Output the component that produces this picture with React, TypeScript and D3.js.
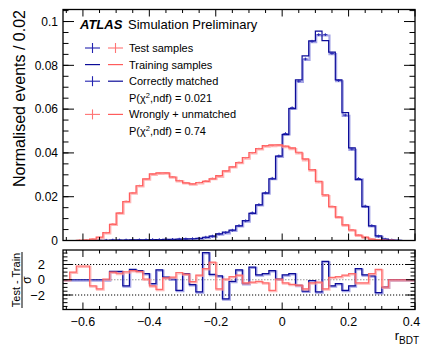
import React from 'react';
import * as d3 from 'd3';

// ---- data (bins of width 0.02 from -0.66 to 0.40) ----
const binLow = -0.66;
const binWidth = 0.02;

const correctTrain = [
  0, 0, 0, 0, 0, 0.0001, 0.0001, 0.0002, 0.0002, 0.0002,
  0.0003, 0.0003, 0.0003, 0.0004, 0.0004, 0.0005, 0.0005, 0.0006, 0.0007, 0.0008,
  0.001, 0.0014, 0.002, 0.003, 0.0038, 0.0047, 0.0067, 0.0091, 0.0124, 0.0163,
  0.0216, 0.0281, 0.0385, 0.0484, 0.0602, 0.0734, 0.0843, 0.0912, 0.0956, 0.0913,
  0.086, 0.0734, 0.0584, 0.0423, 0.0278, 0.0155, 0.0067, 0.0021, 0.0006, 0.0002,
  0.0001, 0, 0,
];
const correctTest = [
  0, 0, 0, 0, 0, 0.0001, 0.0001, 0.0002, 0.0002, 0.0002,
  0.0003, 0.0003, 0.0003, 0.0004, 0.0004, 0.0005, 0.0005, 0.0006, 0.0007, 0.0008,
  0.001, 0.0015, 0.002, 0.003, 0.0036, 0.0047, 0.0068, 0.009, 0.0126, 0.0164,
  0.0218, 0.0284, 0.0386, 0.0488, 0.0606, 0.0728, 0.0829, 0.091, 0.094, 0.094,
  0.0855, 0.0731, 0.0573, 0.0418, 0.0283, 0.0157, 0.0068, 0.002, 0.0006, 0.0002,
  0.0001, 0, 0,
];
const wrongTrain = [
  0, 0, 0.0001, 0.0002, 0.0006, 0.0015, 0.0036, 0.0074, 0.0125, 0.0178,
  0.0217, 0.025, 0.0281, 0.0304, 0.0309, 0.0309, 0.029, 0.0273, 0.0263, 0.0259,
  0.0265, 0.027, 0.0281, 0.0296, 0.0318, 0.0336, 0.0356, 0.0379, 0.0402, 0.042,
  0.0433, 0.0437, 0.0437, 0.0431, 0.0423, 0.0403, 0.0373, 0.0324, 0.027, 0.0209,
  0.0155, 0.0107, 0.0071, 0.0048, 0.0025, 0.0015, 0.0006, 0.0003, 0.0001, 0.0001,
  0, 0, 0,
];
const wrongTest = [
  0, 0, 0.0001, 0.0002, 0.0006, 0.0014, 0.0036, 0.0075, 0.0126, 0.0179,
  0.0218, 0.0251, 0.0281, 0.0303, 0.0308, 0.0309, 0.0291, 0.0274, 0.0264, 0.0259,
  0.0265, 0.0272, 0.0284, 0.0294, 0.0318, 0.0337, 0.0357, 0.0378, 0.0401, 0.042,
  0.0432, 0.0434, 0.0437, 0.043, 0.0421, 0.0401, 0.037, 0.0323, 0.0269, 0.0207,
  0.0156, 0.0108, 0.0072, 0.0049, 0.0025, 0.0015, 0.0006, 0.0003, 0.0001, 0.0001,
  0, 0, 0,
];
const correctRatio = [
  0, 0, 0, 0, 0, 0, 0, 1.1, 1.1, -0.8,
  1.35, 1.2, 0.8, -0.5, 1.3, 0.35, 0.1, -1.4, 0.8, -0.65,
  -1.6, 3.55, 0.7, 0.5, -2.5, -0.2, 1.3, -0.5, 1.65, 0.65,
  0.8, 1.2, 0.1, 0.65, 0.8, -0.75, -1.5, -0.1, -1.6, 2.4,
  -0.8, -0.5, -1.4, -0.8, 1.45, 0.65, 0.5, -1.7, -0.95, 0,
  0, 0, 0,
];
const wrongRatio = [
  0, 1.0, 1.8, 1.8, -0.8, -1.2, 0.1, 1.0, 0.85, 1.05,
  1.2, 1.1, 0.1, -0.8, -1.25, 0.25, 0.35, 0.95, 0.75, -0.25,
  0.6, 1.45, 2.3, -1.2, 0.1, 0.4, 0.6, -0.4, -0.3, -0.2,
  -0.4, -1.4, 0.1, -0.4, -0.6, -0.7, -1.2, -0.4, -0.3, -1.2,
  0.3, 0.4, 0.6, 0.8, -0.4, -0.4, 0.8, 1.35, -0.95, 0,
  0, 0, 0,
];

const xMajorTicks = [-0.6, -0.4, -0.2, 0, 0.2, 0.4];
const xTickLabels = ['\u22120.6', '\u22120.4', '\u22120.2', '0', '0.2', '0.4'];
const yMajorTicks = [0, 0.02, 0.04, 0.06, 0.08, 0.1];
const yTickLabels = ['0', '0.02', '0.04', '0.06', '0.08', '0.1'];
const rMajorTicks = [-2, 0, 2];
const rTickLabels = ['\u22122', '0', '2'];

const legendRows = [
  { marks: ['bc', 'rc'], label: 'Test samples' },
  { marks: ['bl', 'rl'], label: 'Training samples' },
  { marks: ['bc', 'bl'], label: 'Correctly matched' },
  { marks: [], label: 'chi', value: '0.021' },
  { marks: ['rc', 'rl'], label: 'Wrongly + unmatched' },
  { marks: [], label: 'chi', value: '0.74' },
];

// ---- styles ----
const FONT = 'Liberation Sans, Arial, Helvetica, sans-serif';
const BLUE = '#0c0c98';
const BLUE_HALO = '#7474d8';
const BLUE_CROSS = '#2323b0';
const RED = '#ff5c5c';
const RED_HALO = '#ff9e9e';
const RED_CROSS = '#ff7474';

const L = 63, R = 415, T1 = 9.5, B1 = 240.5, T2 = 250, B2 = 309.5;

export default function App() {
  const n = correctTrain.length;
  const edges = d3.range(n + 1).map((i) => binLow + i * binWidth);
  const x = d3.scaleLinear().domain([binLow, binLow + n * binWidth]).range([L, R]);
  const y = d3.scaleLinear().domain([0, 0.1055]).range([B1, T1]);
  const yr = d3.scaleLinear().domain([-3.9, 3.9]).range([B2, T2]);

  const step = (vals: number[], ys: d3.ScaleLinear<number, number>) => {
    const pts: [number, number][] = vals.map((v, i) => [edges[i], v]);
    pts.push([edges[n], vals[n - 1]]);
    return d3
      .line<[number, number]>()
      .x((d) => x(d[0]))
      .y((d) => ys(d[1]))
      .curve(d3.curveStepAfter)(pts) as string;
  };

  const crosses = (vals: number[], color: string, key: string, half: number) =>
    vals.map((v, i) => {
      if (v <= 0) return null;
      const x0 = x(edges[i]) + 1.2, x1 = x(edges[i + 1]) - 1.2;
      const xc = (x(edges[i]) + x(edges[i + 1])) / 2;
      const yc = y(v);
      return (
        <g key={key + i} stroke={color} strokeWidth={1}>
          <line x1={x0} x2={x1} y1={yc} y2={yc} />
          <line x1={xc} x2={xc} y1={yc - half} y2={yc + half} />
        </g>
      );
    });

  const xMinor = d3.range(-13, 9).map((k) => k * 0.05).filter((v) => !xMajorTicks.some((m) => Math.abs(m - v) < 1e-6));
  const yMinor = d3.range(0, 22).map((k) => k * 0.005).filter((v) => v <= 0.1055);
  const rMinor = d3.range(-7, 8).map((k) => k * 0.5);

  const tick = (k: string, x1: number, y1: number, x2: number, y2: number) => (
    <line key={k} x1={x1} y1={y1} x2={x2} y2={y2} stroke="#000" strokeWidth={1} />
  );

  const legendX = [85, 108];
  const legendMark = (m: string, slot: number, yc: number, k: string) => {
    const x0 = legendX[slot], x1 = x0 + 15, xc = x0 + 7.5;
    if (m === 'bc' || m === 'rc') {
      const c = m === 'bc' ? BLUE_CROSS : RED_CROSS;
      return (
        <g key={k} stroke={c} strokeWidth={1.1}>
          <line x1={x0} x2={x1} y1={yc} y2={yc} />
          <line x1={xc} x2={xc} y1={yc - 5} y2={yc + 5} />
        </g>
      );
    }
    const c = m === 'bl' ? BLUE : RED;
    return <line key={k} x1={x0} x2={x1} y1={yc} y2={yc} stroke={c} strokeWidth={1.2} />;
  };

  return (
    <svg width={422} height={344} style={{ display: 'block', position: 'absolute', left: 0, top: 0 }} fontFamily={FONT}>
      <rect x={0} y={0} width={422} height={344} fill="#fff" />
      <defs>
        <clipPath id="cp1"><rect x={L} y={T1} width={R - L} height={B1 - T1} /></clipPath>
        <clipPath id="cp2"><rect x={L} y={T2} width={R - L} height={B2 - T2} /></clipPath>
      </defs>

      {/* upper panel histograms */}
      <g clipPath="url(#cp1)" fill="none">
        <path d={step(correctTest, y)} stroke={BLUE_HALO} strokeWidth={2.2} opacity={0.65} transform="translate(0.8,0.8)" />
        <path d={step(correctTrain, y)} stroke={BLUE} strokeWidth={1.2} />
        {crosses(correctTest, BLUE_CROSS, 'bc', 1.4)}
        <path d={step(wrongTest, y)} stroke={RED_HALO} strokeWidth={2.2} opacity={0.75} transform="translate(0.8,0.8)" />
        <path d={step(wrongTrain, y)} stroke={RED} strokeWidth={1.2} />
        {crosses(wrongTest, RED_CROSS, 'rc', 0.8)}
      </g>

      {/* lower panel */}
      <line x1={L} x2={R} y1={yr(2)} y2={yr(2)} stroke="#000" strokeWidth={1} strokeDasharray="1.2,1.8" />
      <line x1={L} x2={R} y1={yr(-2)} y2={yr(-2)} stroke="#000" strokeWidth={1} strokeDasharray="1.2,1.8" />
      <line x1={L} x2={R} y1={yr(0)} y2={yr(0)} stroke="#999" strokeWidth={1.2} strokeDasharray="1.5,1.5" />
      <g clipPath="url(#cp2)" fill="none">
        <path d={step(correctRatio, yr)} stroke={BLUE_HALO} strokeWidth={2.2} opacity={0.65} transform="translate(0.8,0.8)" />
        <path d={step(correctRatio, yr)} stroke={BLUE} strokeWidth={1.2} />
        <path d={step(wrongRatio, yr)} stroke={RED_HALO} strokeWidth={2.2} opacity={0.7} transform="translate(0.8,0.8)" />
        <path d={step(wrongRatio, yr)} stroke={RED} strokeWidth={1.2} opacity={0.85} />
      </g>

      {/* frames */}
      <rect x={L} y={T1} width={R - L} height={B1 - T1} fill="none" stroke="#000" strokeWidth={1.3} />
      <rect x={L} y={T2} width={R - L} height={B2 - T2} fill="none" stroke="#000" strokeWidth={1.3} />

      {/* upper ticks */}
      {xMajorTicks.map((v, i) => tick('xa' + i, x(v), B1, x(v), B1 - 7))}
      {xMajorTicks.map((v, i) => tick('xb' + i, x(v), T1, x(v), T1 + 7))}
      {xMinor.map((v, i) => tick('xc' + i, x(v), B1, x(v), B1 - 3.5))}
      {xMinor.map((v, i) => tick('xd' + i, x(v), T1, x(v), T1 + 3.5))}
      {yMajorTicks.map((v, i) => tick('ya' + i, L, y(v), L + 11, y(v)))}
      {yMajorTicks.map((v, i) => tick('yb' + i, R, y(v), R - 11, y(v)))}
      {yMinor.map((v, i) => tick('yc' + i, L, y(v), L + 5.5, y(v)))}
      {yMinor.map((v, i) => tick('yd' + i, R, y(v), R - 5.5, y(v)))}

      {/* lower ticks */}
      {xMajorTicks.map((v, i) => tick('xe' + i, x(v), B2, x(v), B2 - 7))}
      {xMajorTicks.map((v, i) => tick('xf' + i, x(v), T2, x(v), T2 + 7))}
      {xMinor.map((v, i) => tick('xg' + i, x(v), B2, x(v), B2 - 3.5))}
      {xMinor.map((v, i) => tick('xh' + i, x(v), T2, x(v), T2 + 3.5))}
      {rMajorTicks.map((v, i) => tick('ra' + i, L, yr(v), L + 9, yr(v)))}
      {rMajorTicks.map((v, i) => tick('rb' + i, R, yr(v), R - 9, yr(v)))}
      {rMinor.map((v, i) => tick('rc' + i, L, yr(v), L + 4.5, yr(v)))}
      {rMinor.map((v, i) => tick('rd' + i, R, yr(v), R - 4.5, yr(v)))}

      {/* tick labels */}
      {yMajorTicks.map((v, i) => (
        <text key={'yl' + i} x={58} y={y(v) + 4.3} fontSize={12} textAnchor="end">{yTickLabels[i]}</text>
      ))}
      {rMajorTicks.map((v, i) => (
        <text key={'rl' + i} x={45} y={yr(v) + 4.6} fontSize={13} textAnchor="end">{rTickLabels[i]}</text>
      ))}
      {xMajorTicks.map((v, i) => (
        <text key={'xl' + i} x={Math.min(x(v), 411.5)} y={326} fontSize={12.5} textAnchor="middle">{xTickLabels[i]}</text>
      ))}

      {/* axis titles */}
      <text transform="translate(25,10) rotate(-90)" fontSize={16} textAnchor="end">Normalised events / 0.02</text>
      <text transform="translate(20,280) rotate(-90)" fontSize={11} textAnchor="middle">Test - Train</text>
      <line x1={22} x2={22} y1={252} y2={308} stroke="#000" strokeWidth={1} />
      <text transform="translate(30.5,280) rotate(-90)" fontSize={12} textAnchor="middle">σ</text>
      <text x={419} y={340} textAnchor="end">
        <tspan fontSize={13}>r</tspan>
        <tspan fontSize={10} dy={3.5}>BDT</tspan>
      </text>

      {/* ATLAS label */}
      <text x={80} y={29} fontSize={13} fontWeight="bold" fontStyle="italic">ATLAS</text>
      <text x={128} y={29} fontSize={13}>Simulation Preliminary</text>

      {/* legend */}
      {legendRows.map((row, i) => {
        const yc = 48 + i * 16.6;
        return (
          <g key={'lg' + i}>
            {row.marks.map((m, j) => legendMark(m, j, yc, 'lm' + i + j))}
            {row.label === 'chi' ? (
              <text x={129} y={yc + 4} fontSize={11}>
                P(χ<tspan fontSize={7.5} dy={-4}>2</tspan><tspan dy={4}>,ndf) = {row.value}</tspan>
              </text>
            ) : (
              <text x={129} y={yc + 4} fontSize={11}>{row.label}</text>
            )}
          </g>
        );
      })}
    </svg>
  );
}
